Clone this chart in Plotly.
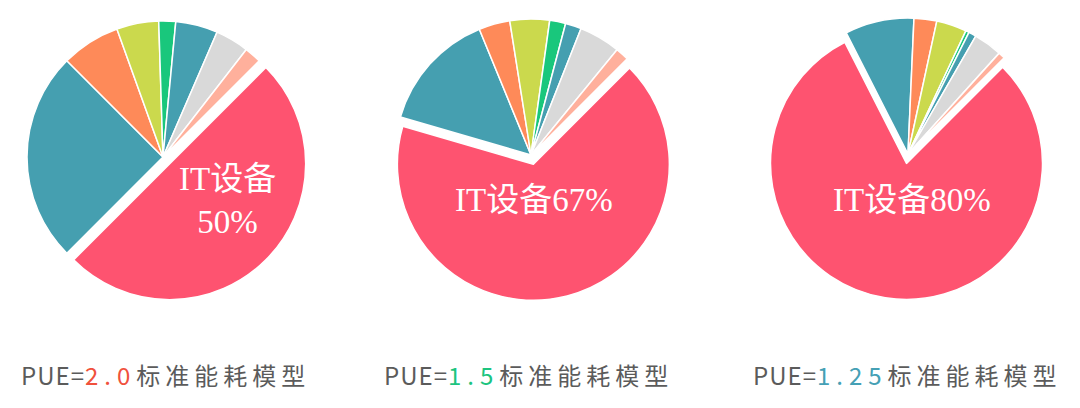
import plotly.graph_objects as go

W, H = 1080, 408
OFF = 8  # default body margin of the html page

# slice order: IT equipment first, then the rest clockwise
parts = ["IT设备", "制冷", "空调末端", "加湿", "新风", "配电", "照明", "其他"]
share_pue20 = [50, 25, 7, 5, 2, 5, 4, 2]
share_pue15 = [67, 14.3, 3.7, 4.7, 1.9, 1.9, 4.9, 1.6]
share_pue125 = [80, 8.2, 2.7, 3.6, 0.4, 0.9, 3.4, 0.8]
pue_labels = ["2.0", "1.5", "1.25"]
pue_colors = ["#f0513c", "#1dc47f", "#45a0b5"]

slice_colors = ["#fe5370", "#459fb0", "#fe8a59", "#cbd94d",
                "#19c77c", "#459fb0", "#d9d9d9", "#ffb09c"]

_CENTERS = [(163, 157), (531, 155), (908, 154)]  # pie centres in px
_RADIUS = 136
_PULL = 0.07
_LABEL_POS = [(227, 200), (534, 200), (912, 200)]
_CAPTION_X = [165, 528, 907]

FW, FH = W - 2 * OFF, H - 2 * OFF


def _paper(px, py):
    return (px - OFF) / FW, 1 - (py - OFF) / FH


def _clip(v):
    return min(max(v, 0.0), 1.0)


fig = go.Figure()
half = _RADIUS * (1 + _PULL)
for i, shares in enumerate([share_pue20, share_pue15, share_pue125]):
    cx, cy = _CENTERS[i]
    x0, y1 = _paper(cx - half, cy - half)
    x1, y0 = _paper(cx + half, cy + half)
    fig.add_trace(
        go.Pie(
            labels=parts,
            values=shares,
            sort=False,
            direction="clockwise",
            rotation=45,
            pull=[_PULL] + [0] * (len(parts) - 1),
            marker={"colors": slice_colors, "line": {"color": "white", "width": 1.5}},
            textinfo="none",
            hoverinfo="label+percent",
            domain={"x": [_clip(x0), _clip(x1)], "y": [_clip(y0), _clip(y1)]},
            showlegend=False,
        )
    )
    lx, ly = _paper(*_LABEL_POS[i])
    sep = "<br>" if i == 0 else ""
    fig.add_annotation(
        text=f"{parts[0]}{sep}{shares[0]}%",
        x=lx, y=ly, xref="paper", yref="paper",
        xanchor="center", yanchor="middle",
        showarrow=False,
        font={"family": "Liberation Serif, Noto Sans CJK SC", "size": 33, "color": "white"},
    )
    tx, ty = _paper(_CAPTION_X[i], 374)
    fig.add_annotation(
        text=(
            "<span style='letter-spacing:1px'>PUE=</span>"
            f"<span style='color:{pue_colors[i]};letter-spacing:6px'>{pue_labels[i]}</span>"
            "<span style='letter-spacing:5px'>标准能耗模型</span>"
        ),
        x=tx, y=ty, xref="paper", yref="paper",
        xanchor="center", yanchor="middle",
        showarrow=False,
        font={"family": "Noto Sans CJK SC", "size": 24, "color": "#5b5b5b"},
    )

fig.update_layout(
    width=FW,
    height=FH,
    margin={"l": 0, "r": 0, "t": 0, "b": 0},
    paper_bgcolor="white",
    plot_bgcolor="white",
)
fig.write_html("out.html")
